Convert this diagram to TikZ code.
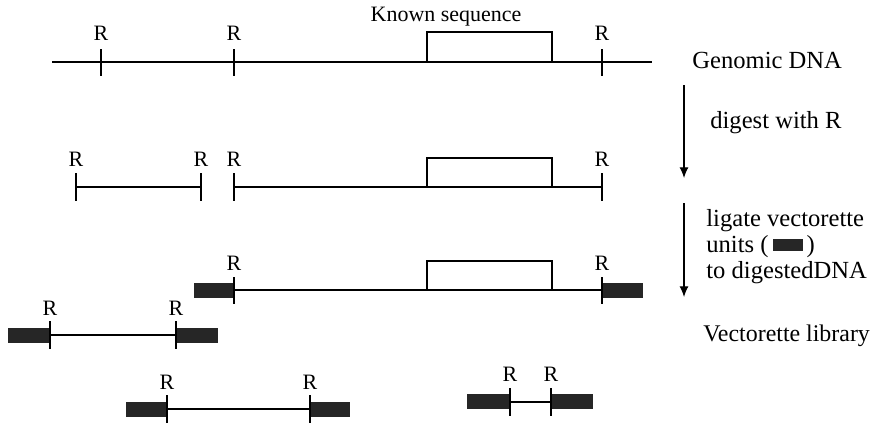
\documentclass[tikz,border=0pt]{standalone}
\usepackage{fontspec}
\setmainfont{Liberation Serif}
\newfontfamily\timesfont{Liberation Serif}
\usetikzlibrary{arrows.meta}
\tikzset{
  dna/.style={line width=0.8pt},
  site/.style={line width=0.6pt},
  known/.style={draw,line width=0.6pt},
  vunit/.style={fill=black!85},
  rlab/.style={anchor=base,inner sep=0pt,font=\timesfont\fontsize{12.5}{14}\selectfont},
  step label/.style={anchor=base west,inner sep=0pt,font=\timesfont\fontsize{14}{16}\selectfont},
  flow/.style={line width=0.6pt,-{Latex[length=6pt,width=5pt]}}
}
\begin{document}
\begin{tikzpicture}[x=0.02cm,y=-0.02cm]
    \useasboundingbox (0,0) rectangle (875,426);

    % Genomic DNA
    \draw[dna] (52,62) -- (652,62);
    \draw[known] (427,32) rectangle (552,62);
    \node[rlab] (known) at (446,21) {Known sequence};
    \foreach \x/\n in {101/a,234/b,602/c} {
      \draw[site] (\x,49) -- (\x,76);
      \node[rlab] (r1\n) at (\x,40) {R};
    }
    \node[step label] (genomic) at (692,68) {Genomic DNA};

    % digest with R
    \coordinate (d1) at (684,85);
    \coordinate (d2) at (684,178);
    \draw[flow] (d1) -- (d2);
    \node[step label] (digest) at (710,128) {digest with R};

    % fragments after digestion
    \draw[dna] (76,187) -- (201,187);
    \draw[dna] (234,187) -- (602,187);
    \draw[known] (427,158) rectangle (552,187);
    \foreach \x/\n in {76/a,201/b,234/c,602/d} {
      \draw[site] (\x,173) -- (\x,201);
      \node[rlab] (r2\n) at (\x,166) {R};
    }

    % ligate vectorette units
    \coordinate (l1) at (684,203);
    \coordinate (l2) at (684,297);
    \draw[flow] (l1) -- (l2);
    \node[step label] (ligate) at (706,226) {ligate vectorette};
    \node[step label] (units) at (706,252) {units (\,\textcolor{black!85}{\rule[0.1ex]{17pt}{6.5pt}}\,)};
    \node[step label] (todna) at (706,278) {to digestedDNA};

    % library fragments
    \draw[dna] (234,290) -- (602,290);
    \draw[known] (427,261) rectangle (552,290);
    \fill[vunit] (194,283) rectangle (234,298);
    \fill[vunit] (602,283) rectangle (643,298);
    \foreach \x/\n in {234/a,602/b} {
      \draw[site] (\x,277) -- (\x,304);
      \node[rlab] (r3\n) at (\x,270) {R};
    }

    \draw[dna] (50,335) -- (176,335);
    \fill[vunit] (8,328) rectangle (50,343);
    \fill[vunit] (176,328) rectangle (218,343);
    \foreach \x/\n in {50/a,176/b} {
      \draw[site] (\x,321) -- (\x,349);
      \node[rlab] (r4\n) at (\x,315) {R};
    }

    \draw[dna] (167,409) -- (310,409);
    \fill[vunit] (126,402) rectangle (167,417);
    \fill[vunit] (310,402) rectangle (350,417);
    \foreach \x/\n in {167/a,310/b} {
      \draw[site] (\x,395) -- (\x,423);
      \node[rlab] (r5\n) at (\x,389) {R};
    }

    \draw[dna] (510,402) -- (551,402);
    \fill[vunit] (467,394) rectangle (510,409);
    \fill[vunit] (551,394) rectangle (593,409);
    \foreach \x/\n in {510/a,551/b} {
      \draw[site] (\x,388) -- (\x,416);
      \node[rlab] (r6\n) at (\x,381) {R};
    }

    \node[step label,font=\timesfont\fontsize{13.6}{15}\selectfont] (library) at (703,341) {Vectorette library};
\end{tikzpicture}
\end{document}
